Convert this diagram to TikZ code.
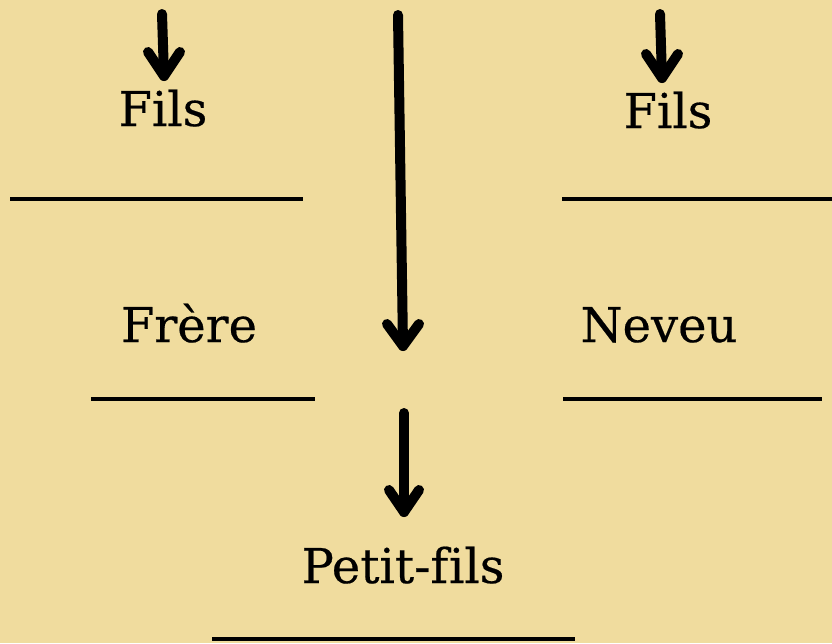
\documentclass[tikz,border=0pt]{standalone}
\usepackage{fontspec}
\setmainfont[Ligatures=NoCommon,FakeBold=0.4]{DejaVu Serif}
\definecolor{bg}{HTML}{F0DC9E}
\begin{document}
\begin{tikzpicture}[x=1pt,y=-1pt,
  lbl/.style={anchor=base,font=\fontsize{48}{56}\selectfont,inner sep=0pt},
  shaft/.style={line width=10pt,line cap=round,line join=round},
  blank/.style={line width=4pt}]
\fill[bg] (0,0) rectangle (832,643);
\useasboundingbox (0,0) rectangle (832,643);
% labels
\node[lbl] (fils1) at (163,126) {Fils};
\node[lbl] (fils2) at (668,128) {Fils};
\node[lbl] (frere) at (189,342) {Frère};
\node[lbl] (neveu) at (659,342) {Neveu};
\node[lbl] (petit) at (403,583) {Petit-f\kern1pt ils};
% blanks
\coordinate (b1a) at (10,199); \coordinate (b1b) at (303,199);
\coordinate (b2a) at (562,199); \coordinate (b2b) at (832,199);
\coordinate (b3a) at (91,399); \coordinate (b3b) at (315,399);
\coordinate (b4a) at (563,399); \coordinate (b4b) at (822,399);
\coordinate (b5a) at (212,639); \coordinate (b5b) at (575,639);
\draw[blank] (b1a) -- (b1b);
\draw[blank] (b2a) -- (b2b);
\draw[blank] (b3a) -- (b3b);
\draw[blank] (b4a) -- (b4b);
\draw[blank] (b5a) -- (b5b);
% arrows
\coordinate (a1s) at (162,14); \coordinate (a1t) at (164,76);
\coordinate (a2s) at (660,14); \coordinate (a2t) at (662,78);
\coordinate (a3s) at (398,15); \coordinate (a3t) at (403,346);
\coordinate (a4s) at (404,413); \coordinate (a4t) at (404,512);
\draw[shaft] (a1s) -- (a1t);
\draw[shaft] ([shift={(-16,-24)}]a1t) -- (a1t) -- ([shift={(16,-24)}]a1t);
\draw[shaft] (a2s) -- (a2t);
\draw[shaft] ([shift={(-16,-24)}]a2t) -- (a2t) -- ([shift={(16,-24)}]a2t);
\draw[shaft] (a3s) -- (a3t);
\draw[shaft] ([shift={(-16,-22)}]a3t) -- (a3t) -- ([shift={(16,-22)}]a3t);
\draw[shaft] (a4s) -- (a4t);
\draw[shaft] ([shift={(-15,-22)}]a4t) -- (a4t) -- ([shift={(15,-22)}]a4t);
\end{tikzpicture}
\end{document}
